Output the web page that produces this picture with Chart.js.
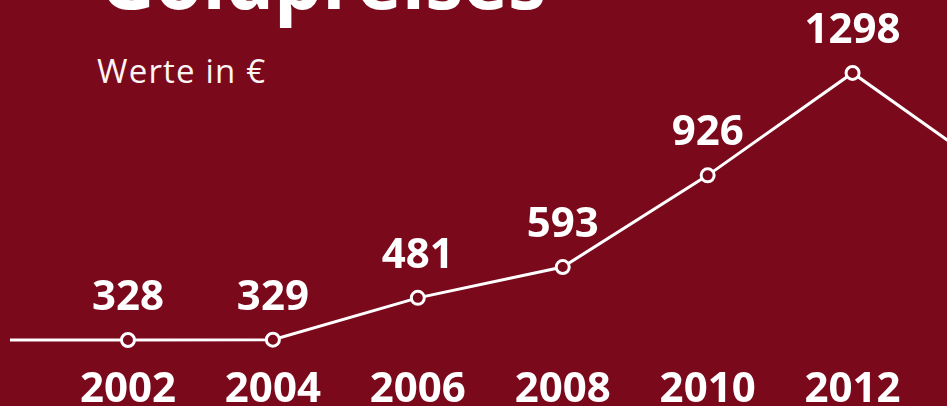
<!DOCTYPE html>
<html lang="de">
<head>
<meta charset="utf-8">
<script src="https://cdn.jsdelivr.net/npm/chart.js@4"></script>
<style>
  html, body { margin: 0; padding: 0; background: #7b091c; overflow: hidden; }
  #wrap { position: relative; width: 947px; height: 406px; }
  #title { position: absolute; left: 100px; white-space: nowrap; color: #fff;
           font-family: "Open Sans", sans-serif; font-weight: 700; line-height: 1; }
  #sub { position: absolute; left: 97px; top: 51px; color: #fbf4f5; letter-spacing: 1.2px;
         font-family: "Open Sans", sans-serif; font-size: 33px; line-height: 1.2; }
  canvas { position: absolute; left: 0; top: 0; }
</style>
</head>
<body>
<div id="wrap">
  <div id="title">Goldpreises</div>
  <div id="sub">Werte in €</div>
  <canvas id="chart" width="947" height="406"></canvas>
</div>
<script>
const years = [2002, 2004, 2006, 2008, 2010, 2012, 2014];
const prices = [328, 329, 481, 593, 926, 1298, 925];
const yearTicks = [2002, 2004, 2006, 2008, 2010, 2012, 2014];

const bg = '#7b091c';
const labelFont = 'bold 42px "Open Sans", sans-serif';

// fit the cropped headline to its width in the picture
const title = document.getElementById('title');
const probe = document.createElement('canvas').getContext('2d');
probe.font = '700 100px "Open Sans"';
const size = 100 * 446 / probe.measureText('Goldpreises').width;
title.style.fontSize = size + 'px';
title.style.top = (10 - 0.888 * size) + 'px';

// lead-in line from the left edge to the first point, plus value labels
const extras = {
  id: 'extras',
  beforeDatasetsDraw(chart) {
    const { ctx, chartArea } = chart;
    const first = chart.getDatasetMeta(0).data[0];
    ctx.save();
    ctx.strokeStyle = '#fff';
    ctx.lineWidth = 3;
    ctx.beginPath();
    ctx.moveTo(chartArea.left, first.y);
    ctx.lineTo(first.x, first.y);
    ctx.stroke();
    ctx.restore();
  },
  afterDatasetsDraw(chart) {
    const { ctx } = chart;
    ctx.save();
    ctx.fillStyle = '#fff';
    ctx.font = labelFont;
    ctx.textAlign = 'center';
    ctx.textBaseline = 'middle';
    chart.getDatasetMeta(0).data.forEach((pt, i) => {
      ctx.fillText(String(prices[i]), pt.x, pt.y - 42);
    });
    ctx.restore();
  }
};

new Chart(document.getElementById('chart'), {
  type: 'line',
  data: {
    datasets: [{
      data: years.map((y, i) => ({ x: y, y: prices[i] })),
      borderColor: '#fff',
      borderWidth: 3,
      pointRadius: 6.5,
      pointBorderWidth: 3,
      pointBorderColor: '#fff',
      pointBackgroundColor: bg,
      tension: 0,
      clip: false
    }]
  },
  options: {
    responsive: false,
    animation: false,
    events: [],
    layout: { padding: { left: 10, right: 0, top: 0, bottom: 0 } },
    plugins: { legend: { display: false }, tooltip: { enabled: false } },
    scales: {
      x: {
        type: 'linear',
        min: 2000.372,
        max: 2013.172,
        afterBuildTicks(scale) {
          scale.ticks = yearTicks.map(v => ({ value: v }));
        },
        afterFit(scale) {
          scale.paddingLeft = 0;
          scale.paddingRight = 0;
          scale.height = 64;
        },
        grid: { display: false, drawTicks: false },
        border: { display: false },
        ticks: {
          autoSkip: false,
          maxRotation: 0,
          color: '#fff',
          padding: 23,
          font: { family: '"Open Sans", sans-serif', size: 42, weight: 'bold' },
          callback: v => String(v)
        }
      },
      y: {
        display: false,
        min: 320.7,
        max: 1528.5
      }
    }
  },
  plugins: [extras]
});
</script>
</body>
</html>
